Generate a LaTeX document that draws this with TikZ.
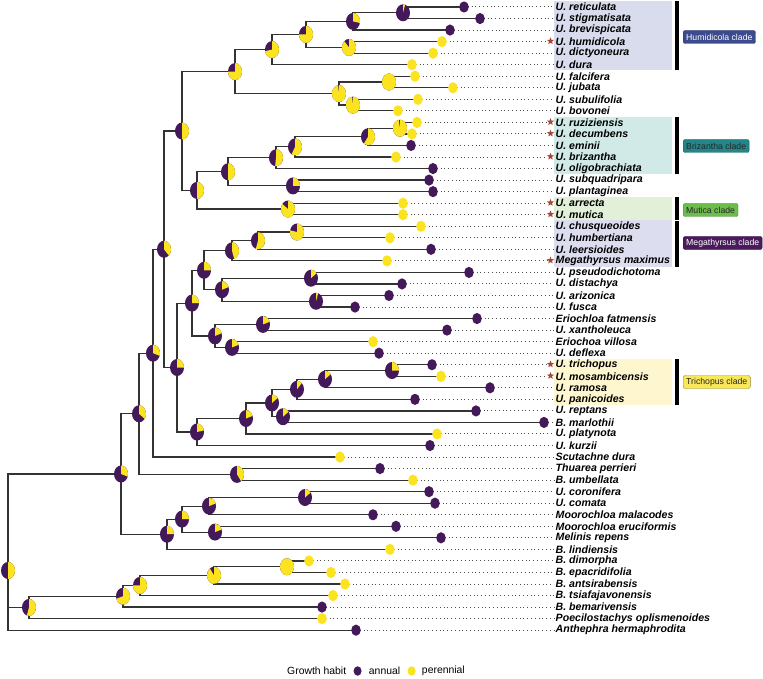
\documentclass[tikz,border=0pt]{standalone}
\usepackage{fontspec}
\setmainfont{Liberation Sans}
\usetikzlibrary{shapes.geometric, positioning, calc}
\definecolor{annual}{HTML}{43195A}
\definecolor{perennial}{HTML}{FBE320}
\definecolor{branch}{HTML}{333333}
\definecolor{starred}{HTML}{A4483C}
\definecolor{humbg}{HTML}{D9DCEC}
\definecolor{humcol}{HTML}{3C4A8E}
\definecolor{bribg}{HTML}{D1EAE7}
\definecolor{bricol}{HTML}{23878A}
\definecolor{mutbg}{HTML}{E2F0DA}
\definecolor{mutcol}{HTML}{6BBD4C}
\definecolor{megbg}{HTML}{DCDDEE}
\definecolor{megcol}{HTML}{4A1B5C}
\definecolor{tribg}{HTML}{FEF6CF}
\definecolor{tricol}{HTML}{F9E75A}
\tikzset{
    branchline/.style={
        draw=branch, line width=1.2pt
    },
    leader/.style={
        draw=black!70, line width=1pt, dash pattern=on 1pt off 2.8pt
    },
    taxon/.style={
        anchor=west, inner sep=0.5pt,
        font=\fontsize{10.6}{12}\selectfont\bfseries\itshape
    },
    starmark/.style={
        star, star points=5, star point ratio=2.3, minimum size=7.5pt,
        inner sep=0pt, fill=starred
    },
    cladetag/.style={
        rectangle, rounded corners=2pt, anchor=west, minimum height=13pt,
        inner xsep=3pt, inner ysep=1pt, line width=0.4pt,
        font=\fontsize{8.7}{10}\selectfont
    },
    cladebar/.style={
        line width=3.5pt, draw=black
    },
    legdot/.style={
        ellipse, minimum width=8pt, minimum height=9.5pt, inner sep=0pt
    },
    legtext/.style={
        inner sep=0pt, font=\fontsize{10.4}{12}\selectfont
    }
}
% pie of growth habit: #1 node, #2 share of perennial
\newcommand{\habitpie}[2]{%
    \fill[annual] (#1) ellipse[x radius=7pt, y radius=8.5pt];
    \fill[perennial] (#1) -- ++(0pt,8.5pt)
        arc[start angle=90, delta angle=-360*#2, x radius=7pt, y radius=8.5pt] -- cycle;
}
% index / dot x / habit / star / name
\def\taxonlist{1/464/annual/0/U. reticulata, 2/480/annual/0/U. stigmatisata,
    3/450/annual/0/U. brevispicata, 4/442/perennial/1/U. humidicola,
    5/433/perennial/0/U. dictyoneura, 6/412/perennial/0/U. dura,
    7/415/perennial/0/U. falcifera, 8/453/perennial/0/U. jubata,
    9/418/perennial/0/U. subulifolia, 10/398/perennial/0/U. bovonei,
    11/417/perennial/1/U. ruziziensis, 12/412/perennial/1/U. decumbens,
    13/411/annual/0/U. eminii, 14/396/perennial/1/U. brizantha,
    15/433/annual/0/U. oligobrachiata, 16/429/annual/0/U. subquadripara,
    17/433/annual/0/U. plantaginea, 18/403/perennial/1/U. arrecta,
    19/403/perennial/1/U. mutica, 20/421/perennial/0/U. chusqueoides,
    21/390/perennial/0/U. humbertiana, 22/431/annual/0/U. leersioides,
    23/387/perennial/1/Megathyrsus maximus, 24/469/annual/0/U. pseudodichotoma,
    25/402/annual/0/U. distachya, 26/389/annual/0/U. arizonica,
    27/355/annual/0/U. fusca, 28/477/annual/0/Eriochloa fatmensis,
    29/447/annual/0/U. xantholeuca, 30/373/perennial/0/Eriochoa villosa,
    31/379/annual/0/U. deflexa, 32/432/annual/1/U. trichopus,
    33/441/perennial/1/U. mosambicensis, 34/490/annual/0/U. ramosa,
    35/415/annual/0/U. panicoides, 36/476/annual/0/U. reptans,
    37/544/annual/0/B. marlothii, 38/437/perennial/0/U. platynota,
    39/430/annual/0/U. kurzii, 40/340/perennial/0/Scutachne dura,
    41/380/annual/0/Thuarea perrieri, 42/413/perennial/0/B. umbellata,
    43/429/annual/0/U. coronifera, 44/435/annual/0/U. comata,
    45/373/annual/0/Moorochloa malacodes, 46/396/annual/0/Moorochloa eruciformis,
    47/441/annual/0/Melinis repens, 48/390/perennial/0/B. lindiensis,
    49/309/perennial/0/B. dimorpha, 50/331/perennial/0/B. epacridifolia,
    51/345/perennial/0/B. antsirabensis, 52/333/perennial/0/B. tsiafajavonensis,
    53/322/annual/0/B. bemarivensis, 54/322/perennial/0/Poecilostachys oplismenoides,
    55/356/annual/0/Anthephra hermaphrodita}

\begin{document}
\begin{tikzpicture}[x=1pt, y=-1pt]

    \useasboundingbox (0,0) rectangle (763,679);

    % ── Clade shading ──
    \fill[humbg] (554,1.2)   rectangle (672,70.5);
    \fill[bribg] (554,116.6) rectangle (672,174.3);
    \fill[mutbg] (554,197.4) rectangle (672,220.5);
    \fill[megbg] (554,220.5) rectangle (672,266.6);
    \fill[tribg] (554,359)   rectangle (672,405.1);

    % ── Tips ──
    \foreach \i/\dx/\hab/\st/\name in \taxonlist {
        \pgfmathsetmacro{\ty}{7+(\i-1)*11.54}
        \coordinate (t\i) at (\dx,\ty);
        \node[taxon] (lab\i) at (555,\ty) {\name};
    }

    % ── Internal nodes ──
    \coordinate (root)  at (8,570.5);
    \coordinate (nMadP) at (29,607.4);
    \coordinate (nMad)  at (123,596.2);
    \coordinate (nDEAT) at (140,585.4);
    \coordinate (nDEA)  at (214,575.3);
    \coordinate (nDE)   at (287,566.7);
    \coordinate (nU)    at (121,474);
    \coordinate (nL)    at (167,534.2);
    \coordinate (nMM)   at (182,519.1);
    \coordinate (nMoo)  at (209,506.1);
    \coordinate (nCC)   at (305,497.5);
    \coordinate (nEM)   at (215,532.1);
    \coordinate (nK)    at (139,413.8);
    \coordinate (nTU)   at (237,474.4);
    \coordinate (nScu)  at (153,353.2);
    \coordinate (nC)    at (164,249.3);
    \coordinate (nA1)   at (182,131);
    \coordinate (nA2)   at (235,71.6);
    \coordinate (nHumD) at (272,49.6);
    \coordinate (nHum)  at (306,34.4);
    \coordinate (nRSB)  at (353,21.4);
    \coordinate (nRS)   at (403,12.8);
    \coordinate (nHD)   at (349,47.4);
    \coordinate (nFJSB) at (339,93.6);
    \coordinate (nFJ)   at (389,82);
    \coordinate (nSB)   at (353,105.1);
    \coordinate (nA3)   at (197,190.4);
    \coordinate (nBriSP) at (228,171.8);
    \coordinate (nBriO) at (276,157.8);
    \coordinate (nBri)  at (295,146.9);
    \coordinate (nRDE)  at (368,136.8);
    \coordinate (nRD)   at (400,128.2);
    \coordinate (nSP)   at (293,185.9);
    \coordinate (nMut)  at (288,209);
    \coordinate (nD)    at (177,367.5);
    \coordinate (nE)    at (192,303.1);
    \coordinate (nG)    at (204,270.3);
    \coordinate (nMeg)  at (232,250.8);
    \coordinate (nCHL)  at (258,240.7);
    \coordinate (nCH)   at (297,232);
    \coordinate (nPDAF) at (222,289.7);
    \coordinate (nPD)   at (311,278.2);
    \coordinate (nAF)   at (316,301.3);
    \coordinate (nH)    at (215,335.9);
    \coordinate (nEX)   at (263,324.4);
    \coordinate (nVD)   at (232,347.4);
    \coordinate (nF)    at (197,432);
    \coordinate (nT5)   at (246,418.5);
    \coordinate (nT4)   at (272,403);
    \coordinate (nTri)  at (297,389.3);
    \coordinate (nTMR)  at (325,379.2);
    \coordinate (nTM)   at (392,370.5);
    \coordinate (nRM)   at (283,416.7);

    % ── Branches ──
    \foreach \p/\c in {root/nU, root/nMadP, root/t55,
        nU/nK, nU/nL, nK/nScu, nK/nTU, nScu/nC, nScu/t40, nTU/t41, nTU/t42,
        nC/nA1, nC/nD, nA1/nA2, nA1/nA3,
        nA2/nHumD, nA2/nFJSB, nHumD/nHum, nHumD/t6, nHum/nRSB, nHum/nHD,
        nRSB/nRS, nRSB/t3, nRS/t1, nRS/t2, nHD/t4, nHD/t5,
        nFJSB/nFJ, nFJSB/nSB, nFJ/t7, nFJ/t8, nSB/t9, nSB/t10,
        nA3/nBriSP, nA3/nMut, nBriSP/nBriO, nBriSP/nSP, nBriO/nBri, nBriO/t15,
        nBri/nRDE, nBri/t14, nRDE/nRD, nRDE/t13, nRD/t11, nRD/t12,
        nSP/t16, nSP/t17, nMut/t18, nMut/t19,
        nD/nE, nD/nF, nE/nG, nE/nH, nG/nMeg, nG/nPDAF,
        nMeg/nCHL, nMeg/t23, nCHL/nCH, nCHL/t22, nCH/t20, nCH/t21,
        nPDAF/nPD, nPDAF/nAF, nPD/t24, nPD/t25, nAF/t26, nAF/t27,
        nH/nEX, nH/nVD, nEX/t28, nEX/t29, nVD/t30, nVD/t31,
        nF/nT5, nF/t39, nT5/nT4, nT5/t38, nT4/nTri, nT4/nRM,
        nTri/nTMR, nTri/t35, nTMR/nTM, nTMR/t34, nTM/t32, nTM/t33,
        nRM/t36, nRM/t37,
        nL/nMM, nL/t48, nMM/nMoo, nMM/nEM, nMoo/nCC, nMoo/t45,
        nCC/t43, nCC/t44, nEM/t46, nEM/t47,
        nMadP/nMad, nMadP/t54, nMad/nDEAT, nMad/t53,
        nDEAT/nDEA, nDEAT/t52, nDEA/nDE, nDEA/t51, nDE/t49, nDE/t50}
        {\draw[branchline] (\p) |- (\c);}

    % ── Leaders, tip states, stars ──
    \foreach \i/\dx/\hab/\st/\name in \taxonlist {
        \pgfmathsetmacro{\gap}{\st*7+1}
        \draw[leader, shorten >=\gap pt] (t\i) -- (lab\i.west);
        \fill[\hab] (t\i) ellipse[x radius=4.8pt, y radius=5.6pt];
        \ifnum\st=1
            \node[starmark] (st\i) at ($(lab\i.west)+(-4.5pt,0.5pt)$) {};
        \fi
    }

    % ── Ancestral states ──
    \foreach \n/\f in {root/0.5, nMadP/0.55, nMad/0.7, nDEAT/0.75, nDEA/0.9,
        nDE/1, nU/0.3, nL/0.25, nMM/0.25, nMoo/0.2, nCC/0.15, nEM/0.2,
        nK/0.35, nTU/0.4, nScu/0.3, nC/0.38, nA1/0.5, nA2/0.75, nHumD/0.72,
        nHum/0.75, nRSB/0.28, nRS/0.05, nHD/0.88, nFJSB/0.98, nFJ/1, nSB/0.98,
        nA3/0.5, nBriSP/0.5, nBriO/0.52, nBri/0.58, nRDE/0.6, nRD/0.97,
        nSP/0.25, nMut/0.85, nD/0.25, nE/0.25, nG/0.25, nMeg/0.45, nCHL/0.55,
        nCH/0.78, nPDAF/0.2, nPD/0.15, nAF/0.05, nH/0.2, nEX/0.2, nVD/0.2,
        nF/0.22, nT5/0.2, nT4/0.15, nTri/0.12, nTMR/0.15, nTM/0.25, nRM/0.15}
        {\habitpie{\n}{\f}}

    % ── Clade bars and tags ──
    \draw[cladebar] (677,1.2)   -- (677,70.5);
    \draw[cladebar] (677,116.6) -- (677,174.3);
    \draw[cladebar] (677,197.4) -- (677,220);
    \draw[cladebar] (677,221)   -- (677,266.6);
    \draw[cladebar] (677,359)   -- (677,405.1);

    \node[cladetag, fill=humcol, draw=humcol!70!black, text=white] (humtag) at (683,37)  {Humidicola clade};
    \node[cladetag, fill=bricol, draw=bricol!70!black, text=black!85] (britag) at (683,146) {Brizantha clade};
    \node[cladetag, fill=mutcol, draw=mutcol!70!black, text=black!85] (muttag) at (683,210) {Mutica clade};
    \node[cladetag, fill=megcol, draw=megcol!70!black, text=white] (megtag) at (683,243) {Megathyrsus clade};
    \node[cladetag, fill=tricol, draw=tricol!60!black, text=black!85] (tritag) at (683,382) {Trichopus clade};

    % ── Legend ──
    \node[legtext, anchor=west] (leghead) at (287,671) {Growth habit};
    \node[legdot, fill=annual, right=7pt of leghead] (legann) {};
    \node[legtext, right=7pt of legann] (legannt) {annual};
    \node[legdot, fill=perennial, right=7pt of legannt] (legper) {};
    \node[legtext, right=6pt of legper] (legpert) {perennial};

\end{tikzpicture}
\end{document}
